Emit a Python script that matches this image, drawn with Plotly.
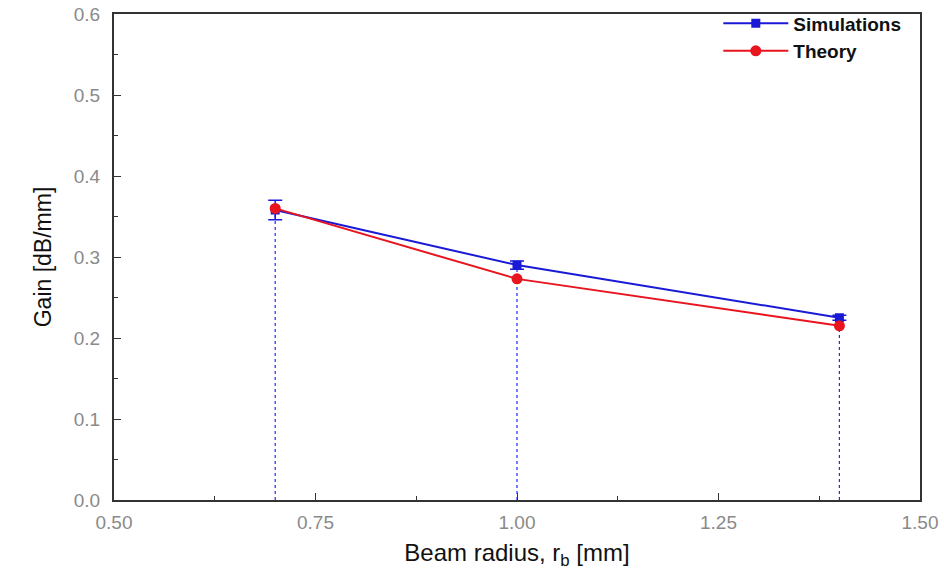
import plotly.graph_objects as go

beam_radius = [0.7, 1.0, 1.4]
sim_gain = [0.358, 0.290, 0.225]
sim_err = [0.012, 0.005, 0.003]
theory_gain = [0.360, 0.273, 0.215]

x_ticks = [0.50, 0.75, 1.00, 1.25, 1.50]
y_ticks = [0.0, 0.1, 0.2, 0.3, 0.4, 0.5, 0.6]

# drop lines from simulation points down to zero
drop_x, drop_y = [], []
for xv, yv in zip(beam_radius, sim_gain):
    drop_x += [xv, xv, None]
    drop_y += [0, yv, None]

fig = go.Figure()
fig.add_trace(go.Scatter(x=drop_x, y=drop_y, mode="lines",
                         line=dict(color="#1f2bff", width=1.2, dash="dot"),
                         showlegend=False, hoverinfo="skip"))
fig.add_trace(go.Scatter(x=beam_radius, y=sim_gain, mode="lines+markers",
                         name="Simulations",
                         line=dict(color="#1a1ad6", width=2),
                         marker=dict(symbol="square", size=9, color="#1a1ad6"),
                         error_y=dict(type="data", array=sim_err, visible=True,
                                      color="#1a1ad6", thickness=1.5, width=7)))
fig.add_trace(go.Scatter(x=beam_radius, y=theory_gain, mode="lines+markers",
                         name="Theory",
                         line=dict(color="#e8141e", width=2),
                         marker=dict(symbol="circle", size=11, color="#e8141e")))

axis_common = dict(showgrid=False, zeroline=False, showline=True,
                   linecolor="#333333", linewidth=2, mirror=True, automargin=False,
                   ticks="inside", ticklen=7, tickcolor="#333333",
                   tickfont=dict(family="Arial, Liberation Sans", size=19, color="#8a8a8a"))

fig.update_xaxes(range=[0.5, 1.5], tickvals=x_ticks,
                 ticktext=[f"{v:.2f}" for v in x_ticks],
                 ticklabelstandoff=4,
                 minor=dict(ticks="inside", ticklen=4, dtick=0.125, tickcolor="#333333"),
                 title=dict(text="Beam radius, r<sub>b</sub> [mm]",
                            font=dict(family="Arial, Liberation Sans", size=24, color="#111111"),
                            standoff=12),
                 **axis_common)
fig.update_yaxes(range=[0, 0.6], tickvals=y_ticks,
                 ticktext=[f"{v:.1f}" for v in y_ticks],
                 ticklabelstandoff=8,
                 minor=dict(ticks="inside", ticklen=4, dtick=0.05, tickcolor="#333333"),
                 title=dict(text="Gain [dB/mm]",
                            font=dict(family="Arial, Liberation Sans", size=23, color="#111111"),
                            standoff=16),
                 **axis_common)

fig.update_layout(
    width=944, height=570,
    margin=dict(l=114, r=24, t=14, b=70, autoexpand=False),
    paper_bgcolor="white", plot_bgcolor="white",
    legend=dict(x=0.983, y=1.02, xanchor="right", yanchor="top",
                bgcolor="rgba(255,255,255,0)", itemwidth=65,
                font=dict(family="Arial, Liberation Sans", size=19, color="#111111",
                          weight="bold"),
                tracegroupgap=0),
)

fig.write_html("out.html")
